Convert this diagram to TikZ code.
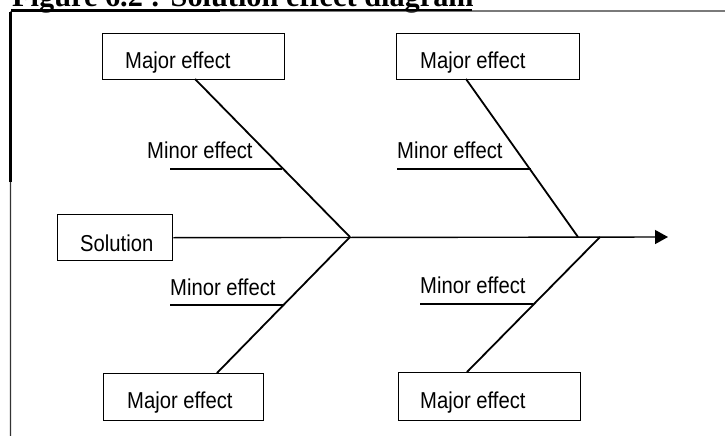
\documentclass[tikz,border=0pt]{standalone}
\usepackage{fontspec}
\setmainfont{Liberation Serif}
\newfontfamily\labelfont[FakeStretch=0.88]{Liberation Sans}
\usetikzlibrary{arrows.meta}

\begin{document}
\begin{tikzpicture}[x=1pt,y=-1pt,
  effbox/.style={draw, line width=1.4pt, inner sep=0pt, anchor=north west},
  lbl/.style={font=\labelfont\fontsize{23}{23}\selectfont, inner sep=0pt, anchor=base west},
  bone/.style={line width=1.8pt},
  rib/.style={line width=1.4pt},
  frame/.style={line width=1.2pt}
]
\useasboundingbox (0,0) rectangle (725,436);
\clip (0,0) rectangle (725,436);

% heading and page frame
\node[lbl, font=\bfseries\fontsize{30.3}{30}\selectfont] (title) at (12,6.5) {Figure 6.2 : Solution effect diagram};
\draw[frame, black!80, rounded corners=2pt] (10.5,436) -- (10.5,11) -- (725,11);
\draw[line width=2.6pt] (10.5,182) -- (10.5,12);
\draw[line width=2.8pt] (11,10.2) -- (220,10.2);
\draw[line width=1.8pt] (220,10.4) -- (472,10.4);

% boxes
\node[effbox, minimum width=182pt, minimum height=46pt] (bTL) at (102,33) {};
\node[effbox, minimum width=183pt, minimum height=46pt] (bTR) at (396,33) {};
\node[effbox, minimum width=115pt, minimum height=46pt] (sol) at (57,214) {};
\node[effbox, minimum width=160pt, minimum height=47pt] (bBL) at (103,373) {};
\node[effbox, minimum width=182pt, minimum height=48pt] (bBR) at (398,372) {};

% box texts
\node[lbl] (tTL) at (125,69) {Major effect};
\node[lbl] (tTR) at (420,69) {Major effect};
\node[lbl] (tSol) at (80,251) {Solution};
\node[lbl] (tBL) at (127,408) {Major effect};
\node[lbl] (tBR) at (420,408) {Major effect};

% minor effect labels
\node[lbl] (mTL) at (147,158) {Minor effect};
\node[lbl] (mTR) at (397,158) {Minor effect};
\node[lbl] (mBL) at (170,295) {Minor effect};
\node[lbl] (mBR) at (420,293) {Minor effect};

% spine junctions and bone ends
\coordinate (j1) at (350,237);
\coordinate (j2) at (578,237);
\coordinate (j3) at (600,237);
\coordinate (tip) at (668,237);
\coordinate (sTL) at (195,79);
\coordinate (sTR) at (466,79);
\coordinate (sBL) at (217,373);
\coordinate (sBR) at (467,372);

% spine
\draw[rib, -{Triangle[length=13pt,width=14pt]}] (sol.east) -- (tip);

% major bones
\draw[bone] (sTL) -- (j1);
\draw[bone] (sBL) -- (j1);
\draw[bone] (sTR) -- (j2);
\draw[bone] (sBR) -- (j3);

% minor ribs
\coordinate (rTLa) at (170,169); \coordinate (rTLb) at (282,169);
\coordinate (rTRa) at (397,169); \coordinate (rTRb) at (531,169);
\coordinate (rBLa) at (170,305); \coordinate (rBLb) at (283,305);
\coordinate (rBRa) at (420,304); \coordinate (rBRb) at (533,304);
\draw[rib] (rTLa) -- (rTLb);
\draw[rib] (rTRa) -- (rTRb);
\draw[rib] (rBLa) -- (rBLb);
\draw[rib] (rBRa) -- (rBRb);
\end{tikzpicture}
\end{document}
